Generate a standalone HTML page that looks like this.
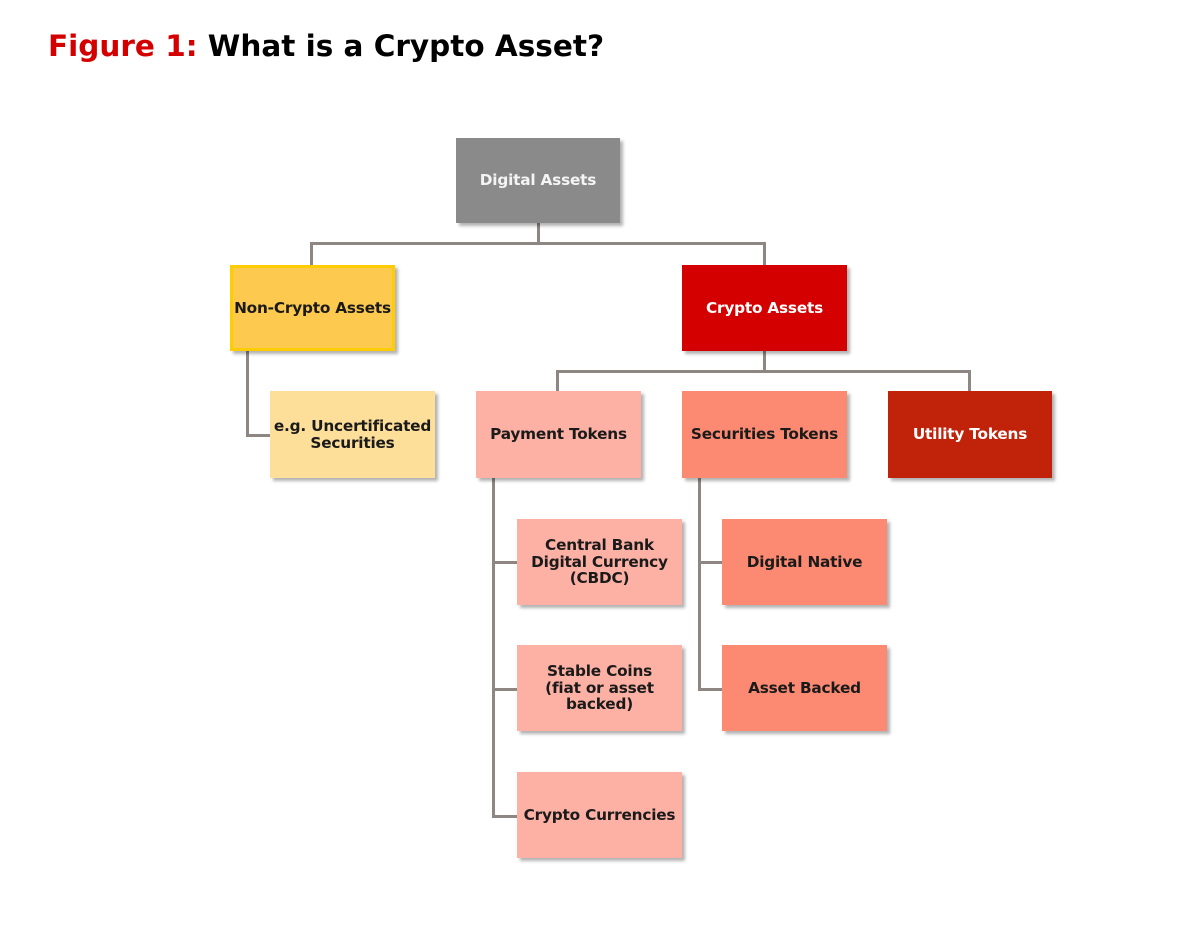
<!DOCTYPE html>
<html><head><meta charset="utf-8"><style>
html,body{margin:0;padding:0;background:#fff;width:1200px;height:926px;overflow:hidden;position:relative;font-family:"DejaVu Sans","Liberation Sans",sans-serif;}
.t{position:absolute;left:48px;top:29px;font-size:29.5px;font-weight:bold;color:#000;white-space:nowrap}
.t span{color:#d40000}
.b{position:absolute;display:flex;align-items:center;justify-content:center;text-align:center;font-weight:bold;font-size:15.3px;letter-spacing:-0.2px;line-height:16.5px;color:#1a1a1a;box-shadow:3px 3px 3px rgba(0,0,0,0.3);box-sizing:border-box;white-space:nowrap}
.l{position:absolute;background:#8e8682}
</style></head><body>
<div class="t"><span>Figure 1:</span> What is a Crypto Asset?</div>

<div class="l" style="left:537px;top:223px;width:3px;height:22px"></div>
<div class="l" style="left:310px;top:242px;width:456px;height:3px"></div>
<div class="l" style="left:310px;top:242px;width:3px;height:24px"></div>
<div class="l" style="left:763px;top:242px;width:3px;height:24px"></div>

<div class="l" style="left:246px;top:351px;width:3px;height:86px"></div>
<div class="l" style="left:246px;top:434px;width:25px;height:3px"></div>

<div class="l" style="left:763px;top:351px;width:3px;height:21px"></div>
<div class="l" style="left:556px;top:370px;width:415px;height:3px"></div>
<div class="l" style="left:556px;top:370px;width:3px;height:22px"></div>
<div class="l" style="left:968px;top:370px;width:3px;height:22px"></div>

<div class="l" style="left:492px;top:478px;width:3px;height:340px"></div>
<div class="l" style="left:492px;top:561px;width:26px;height:3px"></div>
<div class="l" style="left:492px;top:688px;width:26px;height:3px"></div>
<div class="l" style="left:492px;top:815px;width:26px;height:3px"></div>

<div class="l" style="left:698px;top:478px;width:3px;height:213px"></div>
<div class="l" style="left:698px;top:561px;width:25px;height:3px"></div>
<div class="l" style="left:698px;top:688px;width:25px;height:3px"></div>

<div class="b" style="left:456px;top:138px;width:164px;height:85px;background:#8a8a8a;color:#f4f4f4">Digital Assets</div>
<div class="b" style="left:230px;top:265px;width:165px;height:86px;background:#fdc94f;border:3px solid #ffcc00">Non-Crypto Assets</div>
<div class="b" style="left:682px;top:265px;width:165px;height:86px;background:#d40000;color:#fff">Crypto Assets</div>

<div class="b" style="left:270px;top:391px;width:165px;height:87px;background:#fddf9a">e.g. Uncertificated<br>Securities</div>
<div class="b" style="left:476px;top:391px;width:165px;height:87px;background:#fdb0a4">Payment Tokens</div>
<div class="b" style="left:682px;top:391px;width:165px;height:87px;background:#fc8a72">Securities Tokens</div>
<div class="b" style="left:888px;top:391px;width:164px;height:87px;background:#c0220a;color:#fff">Utility Tokens</div>

<div class="b" style="left:517px;top:519px;width:165px;height:86px;background:#fdb0a4">Central Bank<br>Digital Currency<br>(CBDC)</div>
<div class="b" style="left:517px;top:645px;width:165px;height:86px;background:#fdb0a4">Stable Coins<br>(fiat or asset<br>backed)</div>
<div class="b" style="left:517px;top:772px;width:165px;height:86px;background:#fdb0a4">Crypto Currencies</div>

<div class="b" style="left:722px;top:519px;width:165px;height:86px;background:#fc8a72">Digital Native</div>
<div class="b" style="left:722px;top:645px;width:165px;height:86px;background:#fc8a72">Asset Backed</div>
</body></html>
